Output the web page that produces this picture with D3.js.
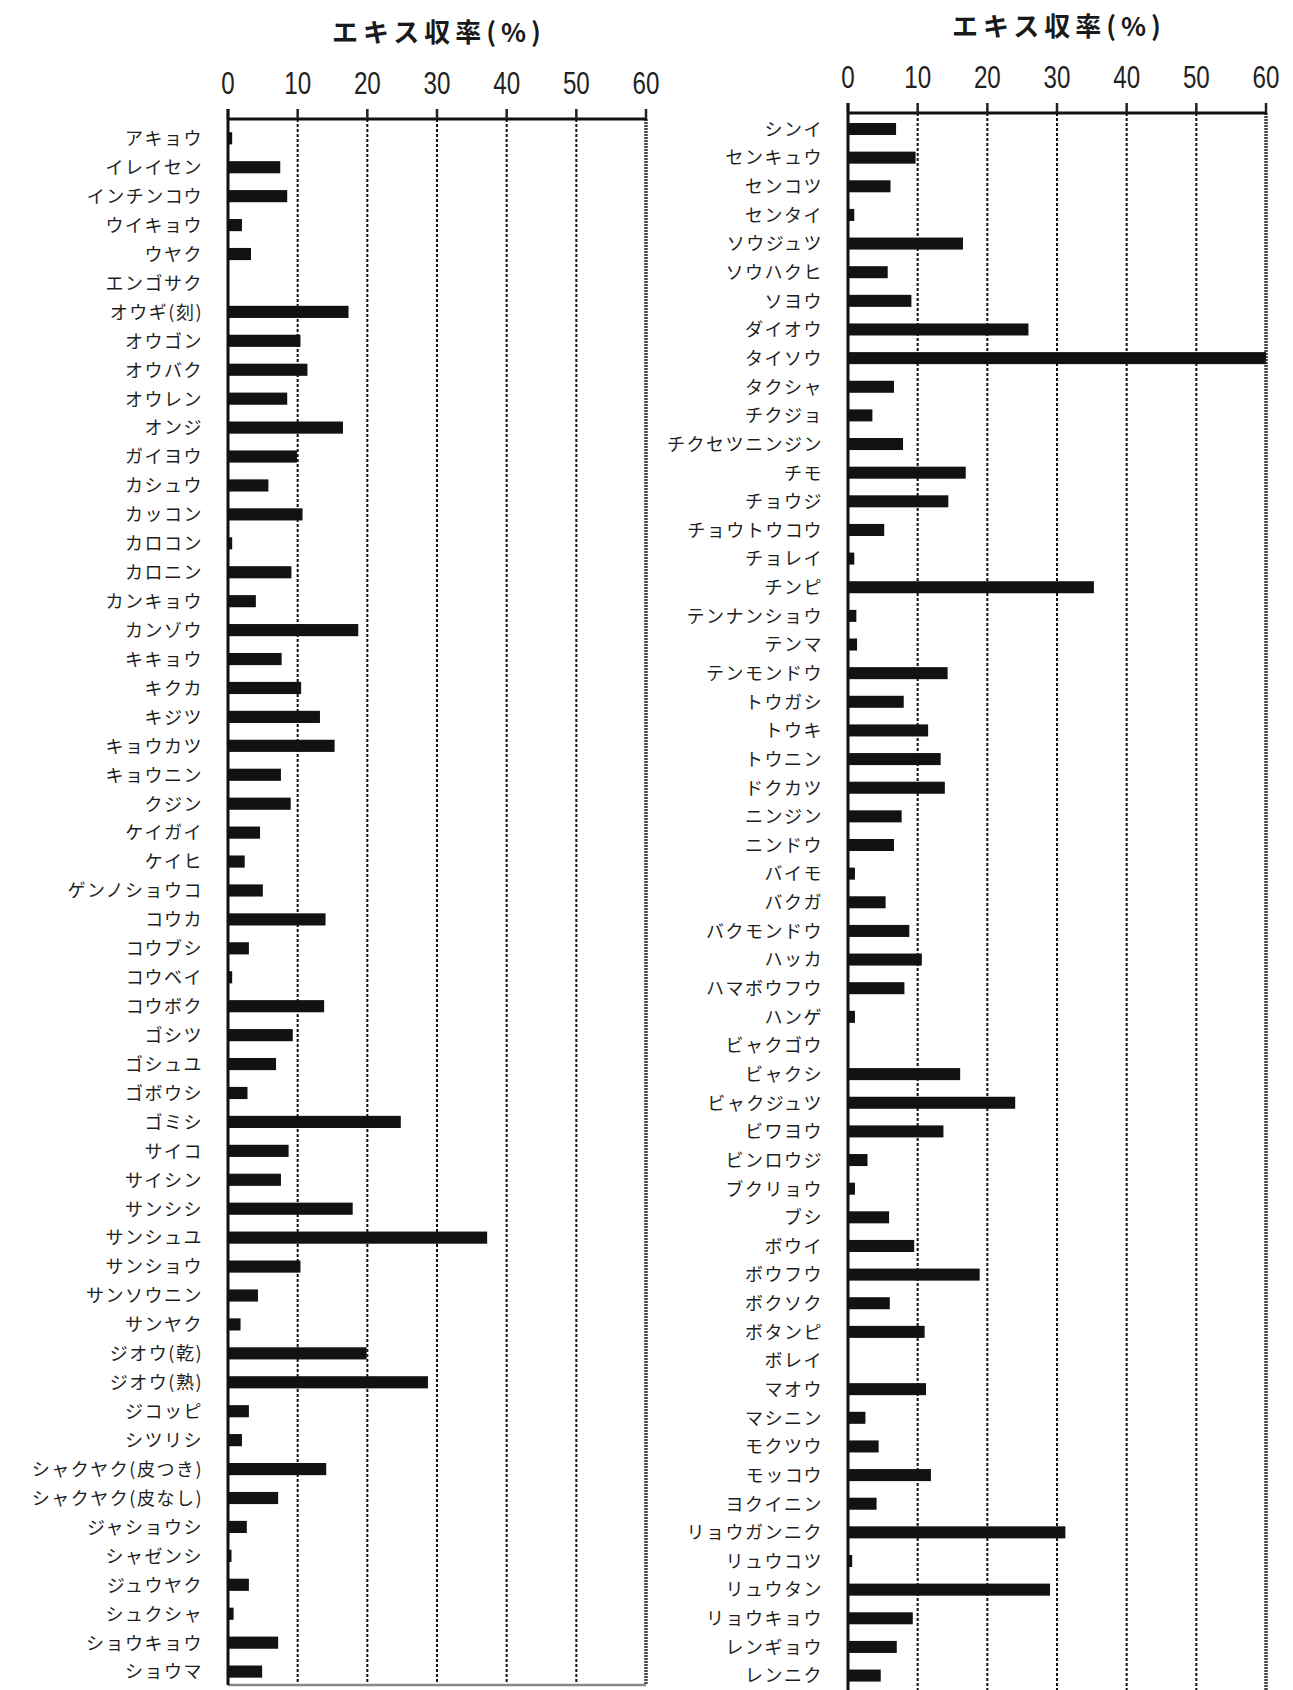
<!DOCTYPE html>
<html>
<head>
<meta charset="utf-8">
<script src="https://cdn.jsdelivr.net/npm/d3@7"></script>
<style>
  html, body { margin: 0; padding: 0; background: #fff; }
  svg { display: block; }
</style>
</head>
<body>
<svg id="chart" width="1293" height="1690"></svg>
<script>
// 生薬ごとのエキス収率（%）— 左右 2 枚の横棒グラフ
const titleText = "エキス収率(%)";
const xTicks = [0, 10, 20, 30, 40, 50, 60];

const leftHerbs = [
  "アキョウ", "イレイセン", "インチンコウ", "ウイキョウ", "ウヤク", "エンゴサク",
  "オウギ(刻)", "オウゴン", "オウバク", "オウレン", "オンジ", "ガイヨウ", "カシュウ",
  "カッコン", "カロコン", "カロニン", "カンキョウ", "カンゾウ", "キキョウ", "キクカ",
  "キジツ", "キョウカツ", "キョウニン", "クジン", "ケイガイ", "ケイヒ", "ゲンノショウコ",
  "コウカ", "コウブシ", "コウベイ", "コウボク", "ゴシツ", "ゴシュユ", "ゴボウシ", "ゴミシ",
  "サイコ", "サイシン", "サンシシ", "サンシュユ", "サンショウ", "サンソウニン", "サンヤク",
  "ジオウ(乾)", "ジオウ(熟)", "ジコッピ", "シツリシ", "シャクヤク(皮つき)",
  "シャクヤク(皮なし)", "ジャショウシ", "シャゼンシ", "ジュウヤク", "シュクシャ",
  "ショウキョウ", "ショウマ"
];
const leftYield = [
  0.6, 7.5, 8.5, 2.0, 3.3, 0,
  17.3, 10.4, 11.4, 8.5, 16.5, 9.9, 5.8,
  10.7, 0.6, 9.1, 4.0, 18.7, 7.7, 10.5,
  13.2, 15.3, 7.6, 9.0, 4.6, 2.4, 5.0,
  14.0, 3.0, 0.6, 13.8, 9.3, 6.9, 2.8, 24.8,
  8.7, 7.6, 17.9, 37.2, 10.4, 4.3, 1.8,
  19.9, 28.7, 3.0, 2.0, 14.1,
  7.2, 2.7, 0.5, 3.0, 0.8,
  7.2, 4.9
];

const rightHerbs = [
  "シンイ", "センキュウ", "センコツ", "センタイ", "ソウジュツ", "ソウハクヒ", "ソヨウ",
  "ダイオウ", "タイソウ", "タクシャ", "チクジョ", "チクセツニンジン", "チモ", "チョウジ",
  "チョウトウコウ", "チョレイ", "チンピ", "テンナンショウ", "テンマ", "テンモンドウ",
  "トウガシ", "トウキ", "トウニン", "ドクカツ", "ニンジン", "ニンドウ", "バイモ", "バクガ",
  "バクモンドウ", "ハッカ", "ハマボウフウ", "ハンゲ", "ビャクゴウ", "ビャクシ",
  "ビャクジュツ", "ビワヨウ", "ビンロウジ", "ブクリョウ", "ブシ", "ボウイ", "ボウフウ",
  "ボクソク", "ボタンピ", "ボレイ", "マオウ", "マシニン", "モクツウ", "モッコウ",
  "ヨクイニン", "リョウガンニク", "リュウコツ", "リュウタン", "リョウキョウ",
  "レンギョウ", "レンニク"
];
const rightYield = [
  6.9, 9.7, 6.1, 0.9, 16.5, 5.7, 9.1,
  25.9, 60, 6.6, 3.5, 7.9, 16.9, 14.4,
  5.2, 0.9, 35.3, 1.2, 1.3, 14.3,
  8.0, 11.5, 13.3, 13.9, 7.7, 6.6, 1.0, 5.4,
  8.8, 10.6, 8.1, 1.0, 0, 16.1,
  24.0, 13.7, 2.8, 1.0, 5.9, 9.5, 18.9,
  6.0, 11.0, 0, 11.2, 2.5, 4.4, 11.9,
  4.1, 31.2, 0.6, 29.0, 9.3,
  7.0, 4.7
];

const svg = d3.select("#chart");

const panels = [
  { names: leftHerbs, values: leftYield, x0: 228, x1: 646, axisY: 119,
    firstRow: 138.3, step: 28.93, titleY: 33, tickY: 83, bottom: 1685, frame: true },
  { names: rightHerbs, values: rightYield, x0: 848, x1: 1266, axisY: 113,
    firstRow: 129, step: 28.64, titleY: 27, tickY: 77, bottom: 1690, frame: false }
];

panels.forEach(p => {
  const g = svg.append("g");
  const n = p.names.length;

  const x = d3.scaleLinear().domain([0, 60]).range([p.x0, p.x1]);
  const y = d3.scaleBand()
    .domain(p.names)
    .range([p.firstRow - p.step / 2, p.firstRow + (n - 0.5) * p.step])
    .paddingInner(0.58)
    .paddingOuter(0.29);

  // タイトル
  g.append("text")
    .attr("x", (p.x0 + p.x1) / 2 + 2)
    .attr("y", p.titleY)
    .attr("dy", "0.36em")
    .attr("text-anchor", "middle")
    .attr("font-family", "'Noto Sans CJK JP', sans-serif")
    .attr("font-size", 26)
    .attr("font-weight", "bold")
    .attr("letter-spacing", "5px")
    .attr("fill", "#1a1a1a")
    .text(titleText);

  // 目盛ラベル（縦長の数字）
  g.selectAll(".tick-label")
    .data(xTicks)
    .join("g")
    .attr("transform", d => `translate(${x(d)},${p.tickY}) scale(0.78,1)`)
    .append("text")
    .attr("text-anchor", "middle")
    .attr("dy", "0.36em")
    .attr("font-family", "'Liberation Sans', Arial, sans-serif")
    .attr("font-size", 31)
    .attr("fill", "#222")
    .text(d => d);

  // 補助線（破線）
  g.selectAll(".grid")
    .data(xTicks.filter(t => t > 0 && t < 60))
    .join("line")
    .attr("x1", d => x(d)).attr("x2", d => x(d))
    .attr("y1", p.axisY).attr("y2", p.bottom)
    .attr("stroke", "#111")
    .attr("stroke-width", 2)
    .attr("stroke-dasharray", "3,2");

  // 右端の枠線
  g.append("line")
    .attr("x1", x(60)).attr("x2", x(60))
    .attr("y1", p.axisY).attr("y2", p.bottom)
    .attr("stroke", "#444")
    .attr("stroke-width", 3.5)
    .attr("stroke-dasharray", "2,1");

  // 下端の枠線
  if (p.frame) {
    g.append("line")
      .attr("x1", x(0)).attr("x2", x(60))
      .attr("y1", p.bottom).attr("y2", p.bottom)
      .attr("stroke", "#888")
      .attr("stroke-width", 2.5);
  }

  // 棒
  g.selectAll(".bar")
    .data(p.names.map((name, i) => ({ name, value: p.values[i] })))
    .join("rect")
    .attr("x", x(0))
    .attr("y", d => y(d.name))
    .attr("width", d => x(d.value) - x(0))
    .attr("height", y.bandwidth())
    .attr("fill", "#121212");

  // 生薬名
  g.selectAll(".name")
    .data(p.names)
    .join("text")
    .attr("x", p.x0 - 25)
    .attr("y", d => y(d) + y.bandwidth() / 2)
    .attr("dy", "0.38em")
    .attr("text-anchor", "end")
    .attr("font-family", "'Noto Sans CJK JP', sans-serif")
    .attr("font-size", 18)
    .attr("letter-spacing", "1.5px")
    .attr("fill", "#1e1e1e")
    .text(d => d);

  // 上側の軸線と目盛
  g.append("line")
    .attr("x1", x(0) - 1).attr("x2", x(60) + 1)
    .attr("y1", p.axisY).attr("y2", p.axisY)
    .attr("stroke", "#111")
    .attr("stroke-width", 3);

  g.selectAll(".tick-mark")
    .data(xTicks)
    .join("line")
    .attr("x1", d => x(d)).attr("x2", d => x(d))
    .attr("y1", p.axisY - 10).attr("y2", p.axisY)
    .attr("stroke", "#222")
    .attr("stroke-width", 2.5);

  // 左側の軸線
  g.append("line")
    .attr("x1", x(0)).attr("x2", x(0))
    .attr("y1", p.axisY - 10).attr("y2", p.bottom)
    .attr("stroke", "#111")
    .attr("stroke-width", 3);
});
</script>
</body>
</html>
